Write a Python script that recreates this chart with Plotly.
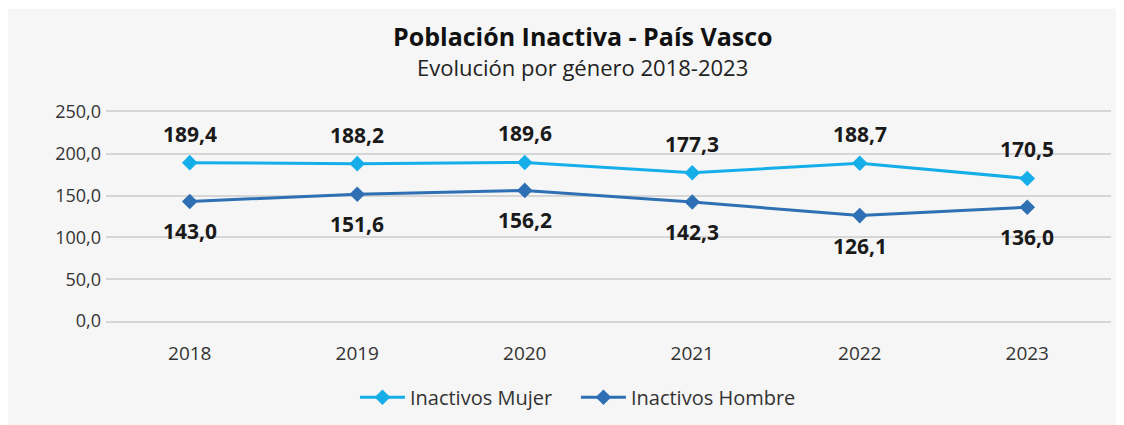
import plotly.graph_objects as go

# datos: población inactiva (miles) País Vasco
years = [2018, 2019, 2020, 2021, 2022, 2023]
mujer = [189.4, 188.2, 189.6, 177.3, 188.7, 170.5]
hombre = [143.0, 151.6, 156.2, 142.3, 126.1, 136.0]
y_ticks = [0, 50, 100, 150, 200, 250]

col_mujer = "#15aee8"
col_hombre = "#2f70b5"
col_grid = "#d6d6d6"
font_family = "Open Sans"


def fmt(v):
    return f"{v:.1f}".replace(".", ",")


fig = go.Figure()

fig.add_trace(
    go.Scatter(
        x=years,
        y=mujer,
        name="Inactivos Mujer",
        mode="lines+markers",
        line=dict(color=col_mujer, width=3),
        marker=dict(symbol="diamond", size=12, color=col_mujer),
    )
)
fig.add_trace(
    go.Scatter(
        x=years,
        y=hombre,
        name="Inactivos Hombre",
        mode="lines+markers",
        line=dict(color=col_hombre, width=3),
        marker=dict(symbol="diamond", size=12, color=col_hombre),
    )
)

# etiquetas de datos: mujer arriba, hombre abajo
for yr, v in zip(years, mujer):
    fig.add_annotation(
        x=yr, y=v, text=fmt(v), showarrow=False, yshift=29,
        font=dict(family=font_family, size=21, color="#1a1a1a", weight="bold"),
    )
for yr, v in zip(years, hombre):
    fig.add_annotation(
        x=yr, y=v, text=fmt(v), showarrow=False, yshift=-30,
        font=dict(family=font_family, size=21, color="#1a1a1a", weight="bold"),
    )

# título y subtítulo
fig.add_annotation(
    xref="paper", yref="paper", x=0.4746, y=1.365, yanchor="middle", showarrow=False,
    text="<b>Población Inactiva - País Vasco</b>",
    font=dict(family=font_family, size=25, color="#111111"),
)
fig.add_annotation(
    xref="paper", yref="paper", x=0.4746, y=1.215, yanchor="middle", showarrow=False,
    text="Evolución por género 2018-2023",
    font=dict(family=font_family, size=22, color="#222222"),
)

# fondo gris claro del gráfico
fig.add_shape(
    type="rect", xref="paper", yref="paper", layer="below",
    x0=-0.0985, x1=1.006, y0=-0.55, y1=1.493,
    fillcolor="#f6f6f6", line=dict(width=0),
)

# la página añade 8 px de margen: se compensa en los márgenes
fig.update_layout(
    width=1124,
    height=425,
    margin=dict(l=98, r=21, t=104, b=112),
    paper_bgcolor="#fdfdfd",
    plot_bgcolor="rgba(0,0,0,0)",
    separators=",.",
    font=dict(family=font_family, size=18, color="#333333"),
    showlegend=True,
    legend=dict(
        orientation="h", x=0.4676, xanchor="center", y=-0.365, yanchor="middle",
        font=dict(size=20, color="#333333"), bgcolor="rgba(0,0,0,0)",
        itemwidth=45, entrywidth=161, entrywidthmode="pixels",
    ),
    # línea del eje x (y su espejo) hacen de rejilla en 0 y 250
    xaxis=dict(
        range=[2017.5, 2023.5], tickvals=years, tickformat="d",
        showgrid=False, showline=True, mirror=True, linecolor=col_grid, linewidth=1.5,
        zeroline=False, ticks="", ticklabelstandoff=14, tickfont=dict(size=19),
    ),
    yaxis=dict(
        range=[0, 250], tickvals=y_ticks, tickformat=".1f",
        gridcolor=col_grid, gridwidth=1.5, zeroline=False, showline=False,
        ticks="", ticklabelstandoff=4, tickfont=dict(size=18),
    ),
)

fig.write_html("out.html")
